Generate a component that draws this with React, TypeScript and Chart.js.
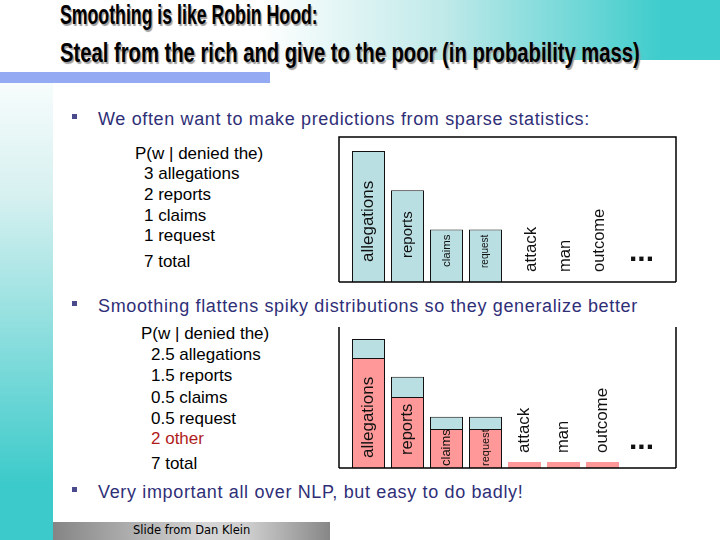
import React, { useEffect, useLayoutEffect, useRef, useState } from "react";
import { Chart, registerables } from "chart.js";

Chart.register(...registerables);

// ---------- data ----------
const categories = ["allegations", "reports", "claims", "request", "attack", "man", "outcome", "..."];
const rawCounts = [3, 2, 1, 1];
const smoothedCounts = [2.5, 1.5, 0.5, 0.5];
const otherMass = 2;
const totalCount = 7;

// bar heights
const rawBarHeights = [3, 2.1, 1.2, 1.2, null, null, null, null];
const smoothedBarHeights = [2.56, 1.65, 0.91, 0.91, 0.14, 0.14, 0.14, null];
const removedMassCaps = [0.44, 0.47, 0.28, 0.28, null, null, null, null];

// label styling (size px, offset from baseline px, x shift px)
const topLabelSizes = [17, 15, 11.5, 10, 17, 16.5, 16.5];
const topLabelOffsets = [20, 24, 15, 14, 10, 10, 10];
const topLabelShifts = [0, 0, 0, 0, 7, 2, -3];
const botLabelSizes = [17, 16.5, 13, 11, 17, 16.5, 17];
const botLabelOffsets = [10, 13, 2, 2, 15, 15, 15];
const botLabelShifts = [0, 0, 0, 0, 0, 0, 0];

const BLUE = "#b9dfe3";
const PINK = "#ff9999";
const NAVY = "#2f2f78";
const FONT = '"Liberation Sans", Arial, sans-serif';

const barLabelsPlugin = {
  id: "barLabels",
  afterDatasetsDraw(chart: any, _args: any, opts: any) {
    const ctx = chart.ctx;
    const base = chart.chartArea.bottom;
    const xs = chart.scales.x;
    chart.data.labels.forEach((lab: string, i: number) => {
      const x = xs.getPixelForValue(i);
      ctx.save();
      ctx.fillStyle = "#111";
      if (lab === "...") {
        ctx.font = `bold 30px ${FONT}`;
        ctx.textAlign = "center";
        ctx.textBaseline = "alphabetic";
        ctx.fillText("...", x, base - opts.dotsOffset);
      } else {
        ctx.translate(x + (opts.shifts[i] || 0), base - opts.offsets[i]);
        ctx.rotate(-Math.PI / 2);
        ctx.font = `${opts.sizes[i]}px ${FONT}`;
        ctx.textAlign = "left";
        ctx.textBaseline = "middle";
        ctx.fillText(lab, 0, 0);
      }
      ctx.restore();
    });
  },
};

const framePlugin = {
  id: "frame",
  afterDraw(chart: any, _args: any, opts: any) {
    const ctx = chart.ctx;
    const a = chart.chartArea;
    const l = a.left - opts.padLeft;
    const r = a.right + opts.padRight;
    ctx.save();
    ctx.strokeStyle = "#000";
    ctx.lineWidth = 1.5;
    ctx.beginPath();
    if (opts.top) {
      ctx.moveTo(l, a.bottom);
      ctx.lineTo(l, a.top);
      ctx.lineTo(r, a.top);
      ctx.lineTo(r, a.bottom);
    } else {
      ctx.moveTo(l, a.top);
      ctx.lineTo(l, a.bottom);
      ctx.moveTo(r, a.top);
      ctx.lineTo(r, a.bottom);
    }
    ctx.moveTo(l, a.bottom);
    ctx.lineTo(r, a.bottom);
    ctx.stroke();
    ctx.restore();
  },
};

function BarChart({ kind, style, width, height, padding }: any) {
  const ref = useRef<HTMLCanvasElement>(null);
  useEffect(() => {
    if (!ref.current) return;
    const isTop = kind === "top";
    const datasets = isTop
      ? [
          {
            data: rawBarHeights,
            backgroundColor: BLUE,
            borderColor: "#111",
            borderWidth: 1,
          },
        ]
      : [
          {
            data: smoothedBarHeights,
            backgroundColor: PINK,
            borderColor: "#111",
            borderWidth: [1, 1, 1, 1, 0, 0, 0, 0],
          },
          {
            data: removedMassCaps,
            backgroundColor: BLUE,
            borderColor: "#111",
            borderWidth: 1,
          },
        ];
    const chart = new Chart(ref.current, {
      type: "bar",
      data: { labels: categories, datasets: datasets as any },
      options: {
        animation: false,
        responsive: false,
        devicePixelRatio: 1,
        layout: { padding },
        datasets: { bar: { categoryPercentage: 1, barPercentage: 0.846 } },
        scales: {
          x: { display: false, stacked: true, grid: { display: false } },
          y: {
            display: false,
            stacked: true,
            min: 0,
            max: isTop ? 3.32 : 3.28,
          },
        },
        plugins: {
          legend: { display: false },
          tooltip: { enabled: false },
          barLabels: {
            sizes: isTop ? topLabelSizes : botLabelSizes,
            offsets: isTop ? topLabelOffsets : botLabelOffsets,
            shifts: isTop ? topLabelShifts : botLabelShifts,
            dotsOffset: isTop ? 21 : 19,
          },
          frame: { top: isTop, padLeft: 10, padRight: 15 },
        } as any,
      },
      plugins: [barLabelsPlugin, framePlugin],
    });
    return () => chart.destroy();
  }, [kind]);
  return <canvas ref={ref} width={width} height={height} style={style} />;
}

function FitText({ text, target, style }: any) {
  const ref = useRef<HTMLSpanElement>(null);
  const [k, setK] = useState(1);
  useLayoutEffect(() => {
    if (ref.current) {
      const w = ref.current.offsetWidth;
      if (w > 0) setK(target / w);
    }
  }, [text, target]);
  return (
    <span
      ref={ref}
      style={{
        ...style,
        display: "inline-block",
        whiteSpace: "nowrap",
        transformOrigin: "0 0",
        transform: `scaleX(${k})`,
      }}
    >
      {text}
    </span>
  );
}

function Line({ x, baseline, size, color, children, weight, spacing }: any) {
  return (
    <div
      style={{
        position: "absolute",
        left: x,
        top: baseline - 0.8465 * size,
        fontSize: size,
        lineHeight: `${size}px`,
        fontFamily: FONT,
        color: color || "#000",
        whiteSpace: "nowrap",
        fontWeight: weight || "normal",
        letterSpacing: spacing || 0,
      }}
    >
      {children}
    </div>
  );
}

function Bullet({ y, text }: any) {
  return (
    <>
      <div style={{ position: "absolute", left: 72, top: y - 11, width: 5, height: 5, background: "#4a4a8c" }} />
      <Line x={98} baseline={y} size={18} color={NAVY} spacing="0.65px">
        {text}
      </Line>
    </>
  );
}

export default function App() {
  useEffect(() => {
    document.body.style.margin = "0";
  }, []);

  const titleStyle = {
    fontFamily: '"Liberation Sans Narrow", "Liberation Sans", Arial, sans-serif',
    fontSize: 28,
    lineHeight: "28px",
    fontWeight: "bold",
    color: "#000",
    textShadow: "2px 2px 1px #a0a0a0",
  };

  const topLines = rawCounts.map((c, i) => `${c} ${categories[i]}`);
  const topBaselines = [179, 200, 221, 241];
  const botLines = smoothedCounts.map((c, i) => `${c.toFixed(1)} ${categories[i]}`);
  const botBaselines = [360, 381, 403, 424];

  return (
    <div
      style={{
        position: "relative",
        width: 720,
        height: 540,
        overflow: "hidden",
        background: "#fff",
        fontFamily: FONT,
      }}
    >
      {/* header gradient */}
      <div
        style={{
          position: "absolute",
          left: 0,
          top: 0,
          width: 720,
          height: 60,
          background: "linear-gradient(to right, #ffffff 36%, #bfe9e9 62%, #3ecccc 92%)",
        }}
      />
      {/* left strip */}
      <div
        style={{
          position: "absolute",
          left: 0,
          top: 83,
          width: 53,
          height: 457,
          background: "linear-gradient(to bottom, #f7fcfc 0%, #d6f0f0 25%, #3ccaca 88%)",
        }}
      />
      {/* blue bar */}
      <div style={{ position: "absolute", left: 0, top: 72, width: 270, height: 11, background: "#94aaf2" }} />
      {/* footer */}
      <div
        style={{
          position: "absolute",
          left: 53,
          top: 522,
          width: 277,
          height: 18,
          background: "linear-gradient(to right, #858585 0%, #d6d6d6 55%, #cfcfcf 70%, #878787 100%)",
        }}
      />
      <div
        style={{
          position: "absolute",
          left: 133,
          top: 533.5 - 0.76 * 11.5,
          fontFamily: '"DejaVu Sans", sans-serif',
          fontSize: 11.5,
          lineHeight: "11.5px",
          color: "#000",
          whiteSpace: "nowrap",
        }}
      >
        Slide from Dan Klein
      </div>

      {/* title */}
      <div style={{ position: "absolute", left: 60, top: 25 - 23.7 }}>
        <FitText text="Smoothing is like Robin Hood:" target={258} style={titleStyle} />
      </div>
      <div style={{ position: "absolute", left: 60, top: 63 - 23.7 }}>
        <FitText
          text="Steal from the rich and give to the poor (in probability mass)"
          target={580}
          style={titleStyle}
        />
      </div>

      {/* bullets */}
      <Bullet y={125} text="We often want to make predictions from sparse statistics:" />
      <Bullet y={312} text="Smoothing flattens spiky distributions so they generalize better" />
      <Bullet y={498} text="Very important all over NLP, but easy to do badly!" />

      {/* top text block */}
      <Line x={135} baseline={159} size={17}>P(w | denied the)</Line>
      {topLines.map((t, i) => (
        <Line key={t} x={144} baseline={topBaselines[i]} size={17}>
          {t}
        </Line>
      ))}
      <Line x={144} baseline={267} size={17}>{`${totalCount} total`}</Line>

      {/* bottom text block */}
      <Line x={141} baseline={339} size={17}>P(w | denied the)</Line>
      {botLines.map((t, i) => (
        <Line key={t} x={151} baseline={botBaselines[i]} size={17}>
          {t}
        </Line>
      ))}
      <Line x={151} baseline={444} size={17} color="#b01c1c">{`${otherMass} other`}</Line>
      <Line x={151} baseline={469} size={17}>{`${totalCount} total`}</Line>

      <BarChart
        kind="top"
        width={340}
        height={148}
        padding={{ left: 11, right: 17, top: 1, bottom: 2 }}
        style={{ position: "absolute", left: 338, top: 136 }}
      />
      <BarChart
        kind="bottom"
        width={340}
        height={146}
        padding={{ left: 11, right: 17, top: 2, bottom: 3 }}
        style={{ position: "absolute", left: 338, top: 325 }}
      />
    </div>
  );
}
